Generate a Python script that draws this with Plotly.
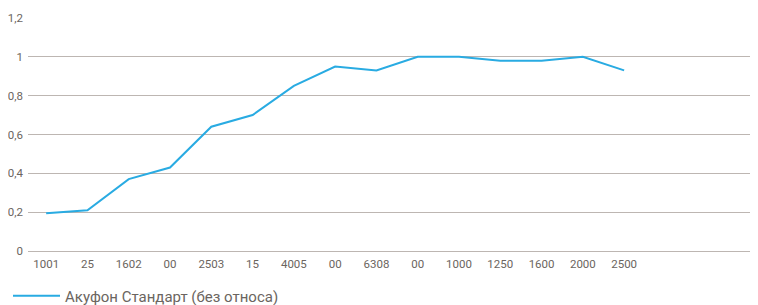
import plotly.graph_objects as go

tick_labels = ["1001", "25", "1602", "00", "2503", "15", "4005", "00", "6308", "00",
               "1000", "1250", "1600", "2000", "2500"]
values = [0.195, 0.21, 0.37, 0.43, 0.64, 0.70, 0.85, 0.95, 0.93, 1.0, 1.0, 0.98, 0.98, 1.0, 0.93]
series_name = "Акуфон Стандарт (без относа)"
y_ticks = [0, 0.2, 0.4, 0.6, 0.8, 1.0, 1.2]
y_tick_text = ["0", "0,2", "0,4", "0,6", "0,8", "1", "1,2"]

x = list(range(len(values)))

fig = go.Figure()
fig.add_trace(go.Scatter(
    x=x, y=values, mode="lines", name=series_name,
    line=dict(color="#29abe2", width=2),
))

# page body has an 8px default margin, so the figure is 8px smaller
fig.update_layout(
    width=750, height=297,
    margin=dict(l=20, r=3, t=10, b=54, autoexpand=False),
    paper_bgcolor="white", plot_bgcolor="white",
    font=dict(family="Roboto, sans-serif", color="#6b6560", size=11),
    showlegend=True,
    legend=dict(orientation="h", xref="container", yref="paper",
                x=-0.003, y=-0.193, xanchor="left", yanchor="middle",
                itemwidth=47, bgcolor="rgba(0,0,0,0)",
                font=dict(size=15, color="#6b6560")),
    xaxis=dict(
        tickmode="array", tickvals=x, ticktext=tick_labels,
        range=[-0.44, 17.17], showgrid=False, zeroline=False,
        showline=False, ticks="", tickfont=dict(size=11.5),
        ticklabelstandoff=4,
    ),
    yaxis=dict(
        tickmode="array", tickvals=y_ticks, ticktext=y_tick_text,
        range=[0, 1.2], showgrid=True, gridcolor="#bdb6b2", gridwidth=1,
        zeroline=True, zerolinecolor="#bdb6b2", zerolinewidth=1,
        ticks="", ticklabelstandoff=4, tickfont=dict(size=11.5),
    ),
)

fig.write_html("out.html")
